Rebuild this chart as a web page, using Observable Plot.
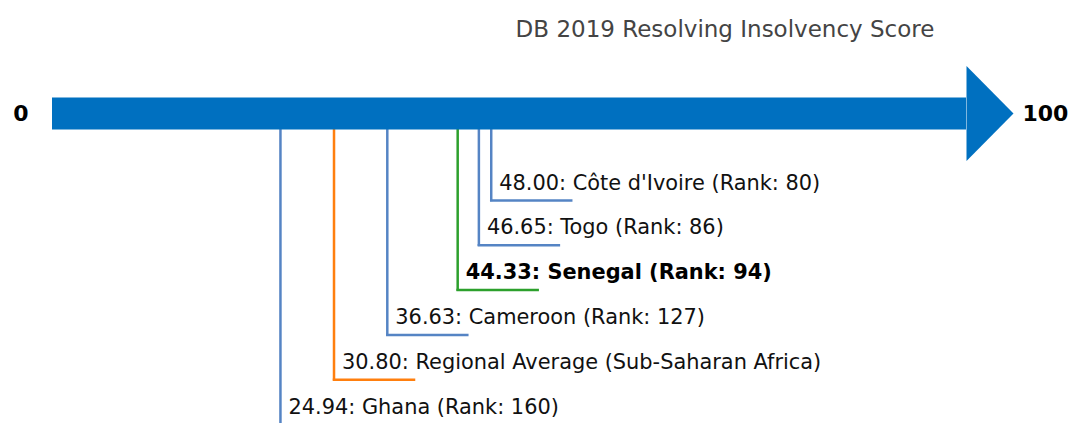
<!DOCTYPE html>
<html><head><meta charset="utf-8">
<script src="https://cdn.jsdelivr.net/npm/d3@7"></script>
<script src="https://cdn.jsdelivr.net/npm/@observablehq/plot@0.6"></script>
<style>body{margin:0;background:#fff;}</style>
</head><body><div id="chart"></div>
<script>
const names = ["Côte d'Ivoire", "Togo", "Senegal", "Cameroon", "Regional Average (Sub-Saharan Africa)", "Ghana"];
const scores = [48.00, 46.65, 44.33, 36.63, 30.80, 24.94];
const ranks = [80, 86, 94, 127, null, 160];
const groups = ["peer", "peer", "focus", "peer", "regional", "peer"];
const levels = [1, 2, 3, 4, 5, 6];
const axisEnds = [0, 100];
const title = "DB 2019 Resolving Insolvency Score";

const colors = {peer: "#5584c4", focus: "#2ca02c", regional: "#ff7f0e"};
const data = names.map((n, i) => ({
  name: n, score: scores[i], rank: ranks[i], group: groups[i], level: levels[i],
  label: `${scores[i].toFixed(2)}: ${n}` + (ranks[i] != null ? ` (Rank: ${ranks[i]})` : "")
}));

const lineShape = {draw(ctx, l) { ctx.moveTo(0, 0); ctx.lineTo(0, -l); }};
const headShape = {draw(ctx, l) { ctx.moveTo(-47.5, 0); ctx.lineTo(47.5, 0); ctx.lineTo(0, -l); ctx.closePath(); }};

const labelOpts = {x: "score", y: "level", text: "label", dx: 8, dy: -11, textAnchor: "start", lineAnchor: "bottom",
  fontSize: 20.9, fill: "#111"};

const chart = Plot.plot({
  width: 1071, height: 423,
  marginLeft: 52, marginRight: 105, marginTop: 0, marginBottom: 0,
  style: {fontFamily: "DejaVu Sans", background: "white"},
  x: {domain: axisEnds, axis: null},
  y: {type: "linear", domain: [0, 1, 6], range: [113, 200, 424], axis: null},
  marks: [
    Plot.ruleX(data, {x: "score", y1: 0, y2: "level", stroke: d => colors[d.group], strokeWidth: 2.5, strokeLinecap: "square"}),
    Plot.vector(data, {x: "score", y: "level", rotate: 90, length: 80, anchor: "start", shape: lineShape,
      stroke: d => colors[d.group], strokeWidth: 2.5, strokeLinecap: "square"}),
    Plot.ruleY([0], {x1: axisEnds[0], x2: axisEnds[1], stroke: "#0070c0", strokeWidth: 32}),
    Plot.vector([axisEnds[1]], {x: d => d, y: 0, rotate: 90, length: 47, anchor: "start", shape: headShape,
      fill: "#0070c0", stroke: "none"}),
    Plot.text(data.filter(d => d.group !== "focus"), {...labelOpts, fontWeight: "normal"}),
    Plot.text(data.filter(d => d.group === "focus"), {...labelOpts, fontWeight: "bold", fill: "#000"}),
    Plot.text([axisEnds[0]], {x: d => d, y: 0, text: d => String(d), textAnchor: "end", dx: -24,
      fontSize: 22, fontWeight: "bold", fill: "#000"}),
    Plot.text([axisEnds[1]], {x: d => d, y: 0, text: d => String(d), textAnchor: "start", dx: 56,
      fontSize: 22, fontWeight: "bold", fill: "#000"}),
    Plot.text([title], {frameAnchor: "top-left", dx: 672.5, dy: 36, textAnchor: "middle", lineAnchor: "bottom",
      fontSize: 23, fill: "#444"})
  ]
});
document.getElementById("chart").appendChild(chart);
</script>
</body></html>
